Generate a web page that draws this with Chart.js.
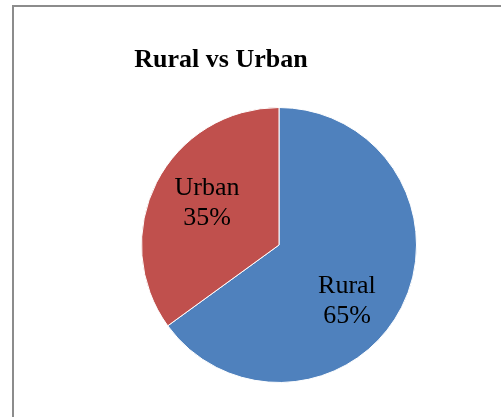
<!DOCTYPE html>
<html>
<head>
<meta charset="utf-8">
<script src="https://cdn.jsdelivr.net/npm/chart.js@4"></script>
<style>
  html, body { margin: 0; padding: 0; background: #fff; }
  #wrap { width: 501px; height: 417px; position: relative; }
</style>
</head>
<body>
<div id="wrap"><canvas id="pieChart" width="501" height="417"></canvas></div>
<script>
const categories = ['Rural', 'Urban'];
const shares = [65, 35];
const sliceColors = ['#4F81BD', '#C0504D'];

// frame and title, drawn behind the pie
const frame = {
  id: 'frame',
  beforeDraw(chart) {
    const ctx = chart.ctx;
    ctx.save();
    ctx.fillStyle = '#fff';
    ctx.fillRect(0, 0, chart.width, chart.height);
    ctx.strokeStyle = '#8c8c8c';
    ctx.lineWidth = 2;
    ctx.strokeRect(13, 6, chart.width + 20, chart.height + 20);
    ctx.fillStyle = '#000';
    ctx.font = 'bold 26px "Liberation Serif", "Times New Roman", serif';
    ctx.textAlign = 'center';
    ctx.textBaseline = 'alphabetic';
    ctx.fillText('Rural vs Urban', 221, 67);
    ctx.restore();
  }
};

// category name and percent inside each slice, nudged a little like a best-fit layout
const labelNudge = [[-8, 15], [4, -5]];
const sliceLabels = {
  id: 'sliceLabels',
  afterDatasetsDraw(chart) {
    const ctx = chart.ctx;
    const meta = chart.getDatasetMeta(0);
    const total = shares.reduce((a, b) => a + b, 0);
    ctx.save();
    ctx.fillStyle = '#000';
    ctx.font = '26px "Liberation Serif", "Times New Roman", serif';
    ctx.textAlign = 'center';
    ctx.textBaseline = 'alphabetic';
    meta.data.forEach((arc, i) => {
      const mid = (arc.startAngle + arc.endAngle) / 2;
      const r = arc.outerRadius * 0.62;
      const x = arc.x + Math.cos(mid) * r + labelNudge[i][0];
      const y = arc.y + Math.sin(mid) * r + labelNudge[i][1];
      const pct = Math.round(shares[i] / total * 100) + '%';
      ctx.fillText(categories[i], x, y - 6);
      ctx.fillText(pct, x, y + 24);
    });
    ctx.restore();
  }
};

const ctx = document.getElementById('pieChart').getContext('2d');
new Chart(ctx, {
  type: 'pie',
  data: {
    labels: categories,
    datasets: [{
      data: shares,
      backgroundColor: sliceColors,
      borderColor: '#ffffff',
      borderWidth: 1
    }]
  },
  options: {
    responsive: false,
    animation: false,
    layout: {
      padding: { left: 141, right: 84, top: 107, bottom: 34 }
    },
    plugins: {
      legend: { display: false },
      title: { display: false },
      tooltip: { enabled: false }
    }
  },
  plugins: [frame, sliceLabels]
});
</script>
</body>
</html>
